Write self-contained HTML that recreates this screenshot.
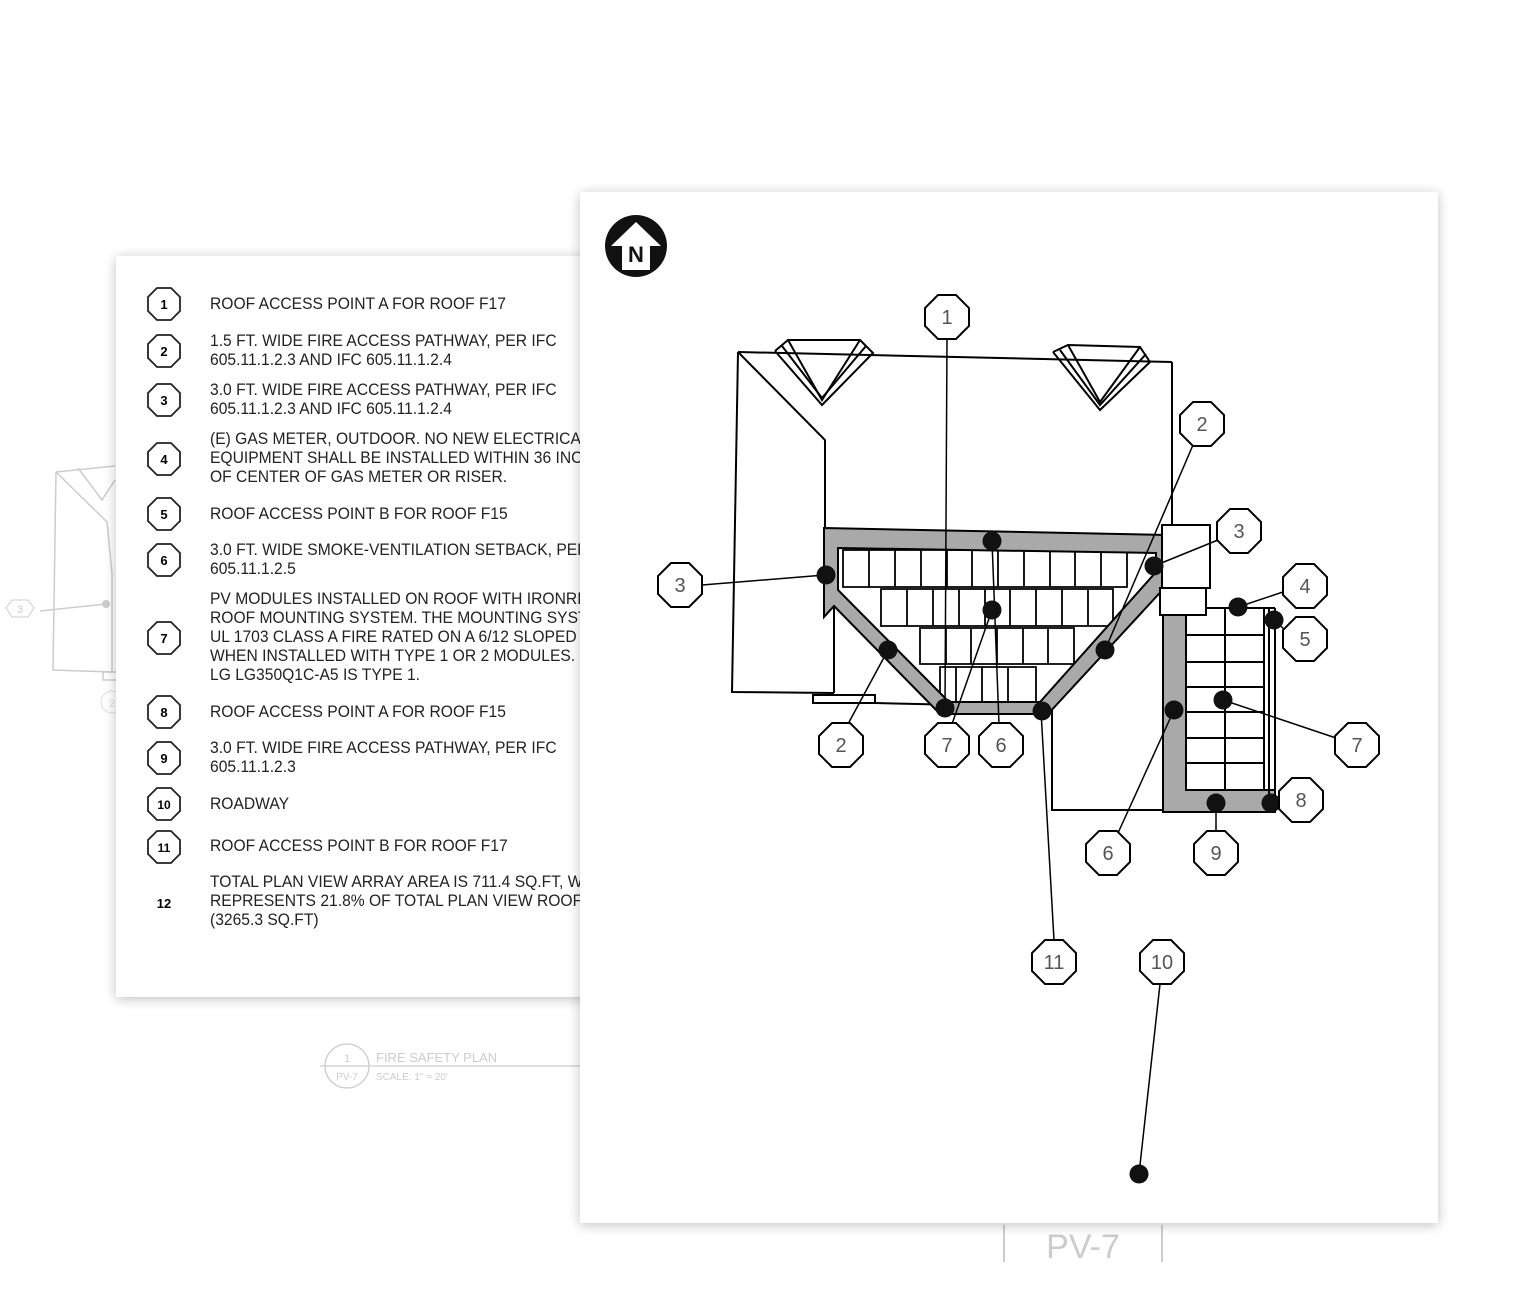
<!DOCTYPE html>
<html><head><meta charset="utf-8"><style>
html,body{margin:0;padding:0;background:#fff;}
svg{display:block;}
text{font-family:"Liberation Sans",sans-serif;}
</style></head><body>
<svg width="1530" height="1298" viewBox="0 0 1530 1298" xmlns="http://www.w3.org/2000/svg">
<defs>
<filter id="sh" x="-10%" y="-10%" width="120%" height="120%"><feGaussianBlur in="SourceAlpha" stdDeviation="6"/><feOffset dx="0" dy="2"/><feComponentTransfer><feFuncA type="linear" slope="0.25"/></feComponentTransfer><feMerge><feMergeNode/><feMergeNode in="SourceGraphic"/></feMerge></filter>
<polygon id="oct" points="-9,-22 9,-22 22,-9 22,9 9,22 -9,22 -22,9 -22,-9" fill="#fff" stroke="#000" stroke-width="2"/>
<polygon id="oct2" points="-7,-16 7,-16 16,-7 16,7 7,16 -7,16 -16,7 -16,-7" fill="#fff" stroke="#222" stroke-width="1.8"/>
</defs>

<g stroke="#ccc" stroke-width="1.5" fill="none">
<polyline points="56,472 53,670 112,672"/>
<polyline points="56,472 107,522 112,573 112,672"/>
<polyline points="56,472 115,466"/>
<polyline points="78,468 102,500 115,480"/>
<line x1="40" y1="611" x2="106" y2="604"/>
<rect x="103" y="672" width="14" height="8"/>
</g>
<circle cx="106" cy="604" r="4" fill="#ccc"/>
<polygon points="12,600 28,600 34,608 28,617 12,617 6,608" fill="none" stroke="#ccc"/>
<text x="20" y="613" font-size="11" fill="#ccc" text-anchor="middle">3</text>
<circle cx="112" cy="702" r="11" fill="none" stroke="#ddd"/>
<text x="112" y="707" font-size="11" fill="#ddd" text-anchor="middle">2</text>

<circle cx="347" cy="1066" r="22" fill="none" stroke="#ccc" stroke-width="1.3"/>
<line x1="320" y1="1066" x2="580" y2="1066" stroke="#ccc" stroke-width="1.3"/>
<text x="347" y="1062" font-size="11" fill="#ccc" text-anchor="middle">1</text>
<text x="347" y="1080" font-size="10" fill="#ccc" text-anchor="middle">PV-7</text>
<text x="376" y="1062" font-size="13" fill="#ccc">FIRE SAFETY PLAN</text>
<text x="376" y="1080" font-size="10" fill="#ccc">SCALE: 1" = 20'</text>

<line x1="1004" y1="1225" x2="1004" y2="1262" stroke="#ccc" stroke-width="2"/>
<line x1="1162" y1="1225" x2="1162" y2="1262" stroke="#ccc" stroke-width="2"/>
<text x="1083" y="1258" font-size="34" fill="#ccc" text-anchor="middle">PV-7</text>

<rect x="116" y="256" width="520" height="741" fill="#fff" filter="url(#sh)"/>
<g>
<use href="#oct2" x="164" y="304"/><text x="164" y="309" font-size="13" text-anchor="middle" font-weight="bold">1</text>
<use href="#oct2" x="164" y="351"/><text x="164" y="356" font-size="13" text-anchor="middle" font-weight="bold">2</text>
<use href="#oct2" x="164" y="400"/><text x="164" y="405" font-size="13" text-anchor="middle" font-weight="bold">3</text>
<use href="#oct2" x="164" y="459"/><text x="164" y="464" font-size="13" text-anchor="middle" font-weight="bold">4</text>
<use href="#oct2" x="164" y="514"/><text x="164" y="519" font-size="13" text-anchor="middle" font-weight="bold">5</text>
<use href="#oct2" x="164" y="560"/><text x="164" y="565" font-size="13" text-anchor="middle" font-weight="bold">6</text>
<use href="#oct2" x="164" y="638"/><text x="164" y="643" font-size="13" text-anchor="middle" font-weight="bold">7</text>
<use href="#oct2" x="164" y="712"/><text x="164" y="717" font-size="13" text-anchor="middle" font-weight="bold">8</text>
<use href="#oct2" x="164" y="758"/><text x="164" y="763" font-size="13" text-anchor="middle" font-weight="bold">9</text>
<use href="#oct2" x="164" y="804"/><text x="164" y="809" font-size="12" text-anchor="middle" font-weight="bold">10</text>
<use href="#oct2" x="164" y="847"/><text x="164" y="852" font-size="12" text-anchor="middle" font-weight="bold">11</text>
<text x="164" y="908" font-size="13" text-anchor="middle" font-weight="bold">12</text>
</g>
<g transform="translate(210,0) scale(0.92,1)" font-size="17" fill="#222">
<text x="0" y="309">ROOF ACCESS POINT A FOR ROOF F17</text>
<text x="0" y="346">1.5 FT. WIDE FIRE ACCESS PATHWAY, PER IFC</text>
<text x="0" y="365">605.11.1.2.3  AND  IFC 605.11.1.2.4</text>
<text x="0" y="395">3.0 FT. WIDE FIRE ACCESS PATHWAY, PER IFC</text>
<text x="0" y="414">605.11.1.2.3  AND  IFC 605.11.1.2.4</text>
<text x="0" y="444">(E) GAS METER, OUTDOOR. NO NEW ELECTRICAL</text>
<text x="0" y="463">EQUIPMENT SHALL BE INSTALLED WITHIN 36 INCHES</text>
<text x="0" y="482">OF CENTER OF GAS METER OR RISER.</text>
<text x="0" y="519">ROOF ACCESS POINT B FOR ROOF F15</text>
<text x="0" y="555">3.0 FT. WIDE SMOKE-VENTILATION SETBACK, PER IFC</text>
<text x="0" y="574">605.11.1.2.5</text>
<text x="0" y="604">PV MODULES INSTALLED ON ROOF WITH IRONRIDGE</text>
<text x="0" y="623">ROOF MOUNTING SYSTEM. THE MOUNTING SYSTEM IS</text>
<text x="0" y="642">UL 1703 CLASS A FIRE RATED ON A 6/12 SLOPED ROOF</text>
<text x="0" y="661">WHEN INSTALLED WITH TYPE 1  OR  2 MODULES.</text>
<text x="0" y="680">LG LG350Q1C-A5 IS TYPE 1.</text>
<text x="0" y="717">ROOF ACCESS POINT A FOR ROOF F15</text>
<text x="0" y="753">3.0 FT. WIDE FIRE ACCESS PATHWAY, PER IFC</text>
<text x="0" y="772">605.11.1.2.3</text>
<text x="0" y="809">ROADWAY</text>
<text x="0" y="851">ROOF ACCESS POINT B FOR ROOF F17</text>
<text x="0" y="887">TOTAL PLAN VIEW ARRAY AREA IS 711.4 SQ.FT, WHICH</text>
<text x="0" y="906">REPRESENTS 21.8% OF TOTAL PLAN VIEW ROOF AREA</text>
<text x="0" y="925">(3265.3 SQ.FT)</text>
</g>

<rect x="580" y="192" width="858" height="1031" fill="#fff" filter="url(#sh)"/>

<circle cx="636" cy="246" r="31" fill="#111"/>
<polygon points="636,222 661,246 650,246 650,270 622,270 622,246 611,246" fill="#fff"/>
<text x="636" y="262" font-size="22" font-weight="bold" text-anchor="middle" fill="#111">N</text>

<g fill="none" stroke="#000" stroke-width="2">
<line x1="738" y1="352" x2="1172" y2="362"/>
<line x1="1172" y1="362" x2="1172" y2="528"/>
<polyline points="738,352 732,692 834,693"/>
<polyline points="738,352 825,440 825,530"/>
<line x1="834" y1="600" x2="834" y2="693"/>
<rect x="813" y="695" width="62" height="8"/>
<line x1="875" y1="703" x2="1052" y2="707"/>
<polyline points="1052,707 1052,810 1163,810"/>
<polyline points="775,351 788,340 860,340 873,353 822,405 775,351"/>
<polyline points="788,340 822,400 860,340"/>
<polyline points="782,346 822,398 866,346"/>
<polyline points="1053,352 1068,345 1140,347 1150,362 1100,410 1053,352"/>
<polyline points="1068,345 1100,402 1140,347"/>
<polyline points="1060,350 1100,405 1146,354"/>
</g>

<g fill="#fff" stroke="#000" stroke-width="1.8">
<path d="M843,550 h284 v37 h-284 z M869,550 v37 M895,550 v37 M921,550 v37 M947,550 v37 M972,550 v37 M998,550 v37 M1024,550 v37 M1050,550 v37 M1075,550 v37 M1101,550 v37"/>
<path d="M881,589 h232 v37 h-232 z M907,589 v37 M933,589 v37 M959,589 v37 M985,589 v37 M1010,589 v37 M1036,589 v37 M1062,589 v37 M1088,589 v37"/>
<path d="M920,628 h154 v36 h-154 z M946,628 v36 M971,628 v36 M997,628 v36 M1023,628 v36 M1048,628 v36"/>
<path d="M940,667 h96 v37 h-96 z M956,667 v37 M982,667 v37 M1008,667 v37"/>
</g>
<path fill-rule="evenodd" fill="#a9a9a9" stroke="#000" stroke-width="2"
 d="M824,528 L1168,535 L1168,584 L1048,714 L940,714 L834,606 L824,617 Z
    M838,548 L1156,553 L1156,572 L1040,702 L949,702 L838,590 Z"/>

<g stroke="#000" stroke-width="2">
<rect x="1162" y="525" width="48" height="63" fill="#fff"/>
<path fill="#a9a9a9" d="M1163,615 H1186 V790 H1275 V812 H1163 Z"/>
<rect x="1186" y="608" width="78" height="182" fill="#fff"/>
<line x1="1225" y1="608" x2="1225" y2="790"/>
<path d="M1186,635 H1264 M1186,662 H1264 M1186,687 H1264 M1186,712 H1264 M1186,738 H1264 M1186,763 H1264" fill="none"/>
<line x1="1206" y1="608" x2="1275" y2="608"/>
<line x1="1269" y1="608" x2="1269" y2="812"/>
<line x1="1275" y1="608" x2="1275" y2="812"/>
<rect x="1160" y="588" width="46" height="27" fill="#fff"/>
</g>

<g stroke="#000" stroke-width="1.5">
<line x1="947" y1="339" x2="945" y2="708"/>
<line x1="1193" y1="445" x2="1105" y2="650"/>
<line x1="702" y1="585" x2="825" y2="575"/>
<line x1="1218" y1="540" x2="1154" y2="566"/>
<line x1="1283" y1="592" x2="1238" y2="607"/>
<line x1="1285" y1="630" x2="1274" y2="620"/>
<line x1="1336" y1="738" x2="1223" y2="700"/>
<line x1="1280" y1="803" x2="1271" y2="803"/>
<line x1="848" y1="724" x2="888" y2="650"/>
<line x1="952" y1="724" x2="992" y2="610"/>
<line x1="999" y1="724" x2="992" y2="541"/>
<line x1="1118" y1="833" x2="1174" y2="710"/>
<line x1="1216" y1="831" x2="1216" y2="803"/>
<line x1="1054" y1="940" x2="1041" y2="711"/>
<line x1="1160" y1="984" x2="1139" y2="1174"/>
</g>

<g fill="#111">
<circle cx="826" cy="575" r="9.5"/><circle cx="992" cy="541" r="9.5"/><circle cx="992" cy="610" r="9.5"/>
<circle cx="888" cy="650" r="9.5"/><circle cx="945" cy="708" r="9.5"/><circle cx="1042" cy="711" r="9.5"/>
<circle cx="1105" cy="650" r="9.5"/><circle cx="1154" cy="566" r="9.5"/><circle cx="1238" cy="607" r="9.5"/>
<circle cx="1274" cy="620" r="9.5"/><circle cx="1223" cy="700" r="9.5"/><circle cx="1174" cy="710" r="9.5"/>
<circle cx="1216" cy="803" r="9.5"/><circle cx="1271" cy="803" r="9.5"/><circle cx="1139" cy="1174" r="9.5"/>
</g>

<g font-size="20" fill="#555" text-anchor="middle">
<use href="#oct" x="947" y="317"/><text x="947" y="324">1</text>
<use href="#oct" x="1202" y="424"/><text x="1202" y="431">2</text>
<use href="#oct" x="680" y="585"/><text x="680" y="592">3</text>
<use href="#oct" x="1239" y="531"/><text x="1239" y="538">3</text>
<use href="#oct" x="1305" y="586"/><text x="1305" y="593">4</text>
<use href="#oct" x="1305" y="639"/><text x="1305" y="646">5</text>
<use href="#oct" x="1357" y="745"/><text x="1357" y="752">7</text>
<use href="#oct" x="1301" y="800"/><text x="1301" y="807">8</text>
<use href="#oct" x="841" y="745"/><text x="841" y="752">2</text>
<use href="#oct" x="947" y="745"/><text x="947" y="752">7</text>
<use href="#oct" x="1001" y="745"/><text x="1001" y="752">6</text>
<use href="#oct" x="1108" y="853"/><text x="1108" y="860">6</text>
<use href="#oct" x="1216" y="853"/><text x="1216" y="860">9</text>
<use href="#oct" x="1054" y="962"/><text x="1054" y="969">11</text>
<use href="#oct" x="1162" y="962"/><text x="1162" y="969">10</text>
</g>
</svg>
</body></html>
